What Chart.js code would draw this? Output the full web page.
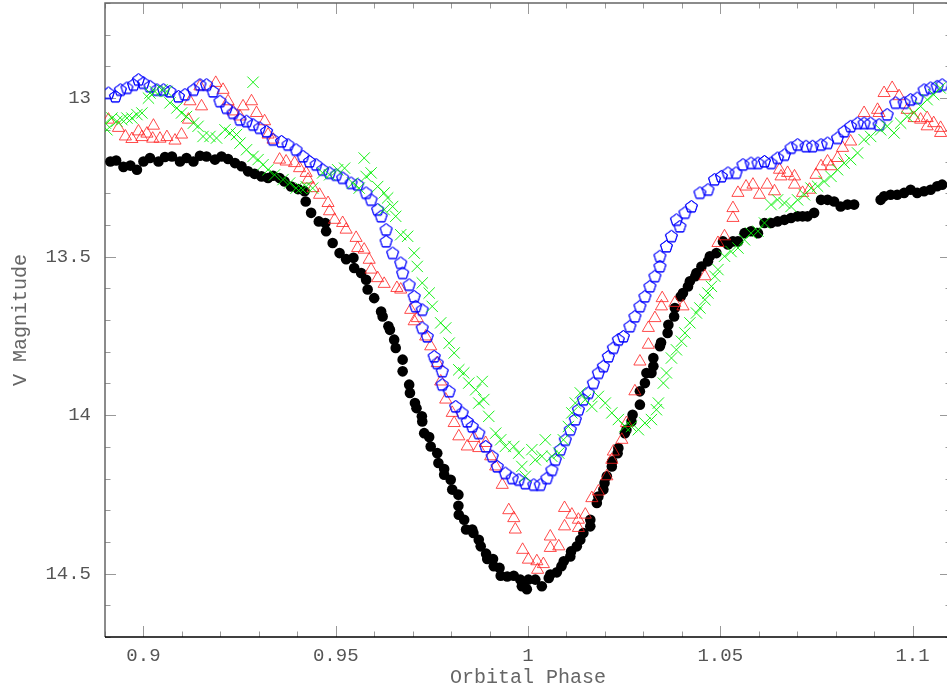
<!DOCTYPE html>
<html lang="en">
<head>
    <meta charset="UTF-8">
    <title>V Magnitude vs Orbital Phase</title>
    <script src="https://cdn.jsdelivr.net/npm/chart.js"></script>
    <style>
        html, body {
            margin: 0;
            padding: 0;
            background: #ffffff;
            overflow: hidden;
        }
        /* plot frame runs a few px past the right edge of the window, as in the original;
           the box is pulled up to cancel the label margin Chart.js keeps above the y axis */
        .chart-box {
            position: relative;
            width: 960px;
            height: 697px;
            margin-top: -6px;
        }
    </style>
</head>
<body>
<div class="chart-box">
    <canvas id="lightCurve"></canvas>
</div>

<script>
// Axis ranges and labelled ticks
const phaseRange = [0.89, 1.11];
const magRange = [12.7, 14.7];
const phaseLabels = [0.9, 0.95, 1, 1.05, 1.1];
const magLabels = [13, 13.5, 14, 14.5];

// Filled black circles
const blackPhase = [0.8914, 0.8929, 0.8948, 0.8966, 0.8983, 0.9000, 0.9017, 0.9039, 0.9056, 0.9074,
    0.9095, 0.9112, 0.9130, 0.9147, 0.9164, 0.9186, 0.9203, 0.9220, 0.9238, 0.9255,
    0.9272, 0.9289, 0.9307, 0.9324, 0.9337, 0.9354, 0.9367, 0.9384, 0.9402, 0.9419,
    0.9422, 0.9436, 0.9456, 0.9473, 0.9475, 0.9492, 0.9510, 0.9527, 0.9546, 0.9548,
    0.9566, 0.9579, 0.9583, 0.9600, 0.9618, 0.9622, 0.9637, 0.9641, 0.9652, 0.9656,
    0.9674, 0.9674, 0.9691, 0.9693, 0.9706, 0.9710, 0.9724, 0.9725, 0.9730, 0.9743,
    0.9747, 0.9764, 0.9767, 0.9782, 0.9782, 0.9799, 0.9803, 0.9819, 0.9819, 0.9820,
    0.9834, 0.9839, 0.9855, 0.9858, 0.9872, 0.9877, 0.9891, 0.9894, 0.9909, 0.9911,
    0.9926, 0.9929, 0.9946, 0.9963, 0.9980, 0.9984, 0.9997, 1.0001, 1.0019, 1.0036,
    1.0054, 1.0058, 1.0075, 1.0087, 1.0093, 1.0110, 1.0112, 1.0127, 1.0136, 1.0144,
    1.0162, 1.0162, 1.0179, 1.0183, 1.0196, 1.0199, 1.0205, 1.0218, 1.0219, 1.0233,
    1.0235, 1.0252, 1.0256, 1.0269, 1.0272, 1.0291, 1.0291, 1.0304, 1.0308, 1.0321,
    1.0326, 1.0326, 1.0343, 1.0346, 1.0363, 1.0365, 1.0380, 1.0382, 1.0397, 1.0403,
    1.0416, 1.0421, 1.0435, 1.0438, 1.0451, 1.0468, 1.0473, 1.0490, 1.0507, 1.0520,
    1.0533, 1.0546, 1.0563, 1.0580, 1.0598, 1.0615, 1.0632, 1.0649, 1.0667, 1.0684,
    1.0701, 1.0714, 1.0727, 1.0744, 1.0762, 1.0779, 1.0796, 1.0813, 1.0831, 1.0848,
    1.0917, 1.0926, 1.0943, 1.0960, 1.0978, 1.0995, 1.1012, 1.1030, 1.1047, 1.1064,
    1.1077];
const blackMag = [13.200, 13.197, 13.217, 13.213, 13.226, 13.200, 13.189, 13.200, 13.186, 13.184,
    13.200, 13.189, 13.200, 13.182, 13.184, 13.194, 13.184, 13.192, 13.205, 13.215,
    13.231, 13.239, 13.247, 13.252, 13.245, 13.252, 13.263, 13.279, 13.287, 13.294,
    13.326, 13.362, 13.389, 13.394, 13.420, 13.457, 13.489, 13.508, 13.504, 13.536,
    13.552, 13.573, 13.604, 13.631, 13.673, 13.689, 13.720, 13.731, 13.762, 13.788,
    13.825, 13.862, 13.904, 13.930, 13.962, 13.978, 14.004, 14.020, 14.057, 14.069,
    14.099, 14.120, 14.151, 14.170, 14.188, 14.204, 14.235, 14.251, 14.286, 14.314,
    14.330, 14.361, 14.361, 14.372, 14.393, 14.414, 14.437, 14.454, 14.454, 14.477,
    14.482, 14.507, 14.509, 14.507, 14.519, 14.540, 14.549, 14.519, 14.519, 14.540,
    14.514, 14.503, 14.496, 14.477, 14.461, 14.446, 14.430, 14.414, 14.393, 14.372,
    14.351, 14.330, 14.277, 14.257, 14.235, 14.214, 14.193, 14.162, 14.146, 14.120,
    14.104, 14.057, 14.046, 14.020, 13.999, 13.967, 13.925, 13.899, 13.867, 13.867,
    13.846, 13.820, 13.783, 13.771, 13.741, 13.715, 13.689, 13.662, 13.626, 13.615,
    13.594, 13.578, 13.562, 13.552, 13.531, 13.515, 13.499, 13.489, 13.452, 13.462,
    13.452, 13.452, 13.426, 13.420, 13.426, 13.394, 13.394, 13.389, 13.384, 13.378,
    13.373, 13.373, 13.373, 13.362, 13.321, 13.321, 13.326, 13.342, 13.336, 13.336,
    13.321, 13.310, 13.305, 13.305, 13.299, 13.289, 13.299, 13.294, 13.289, 13.278,
    13.273];

// Open red triangles
const redPhase = [0.8909, 0.8935, 0.8953, 0.8970, 0.8987, 0.8996, 0.9009, 0.9024, 0.9026, 0.9043,
    0.9061, 0.9082, 0.9099, 0.9117, 0.9121, 0.9147, 0.9151, 0.9188, 0.9207, 0.9220,
    0.9233, 0.9251, 0.9259, 0.9281, 0.9294, 0.9315, 0.9324, 0.9337, 0.9354, 0.9371,
    0.9393, 0.9406, 0.9423, 0.9428, 0.9441, 0.9458, 0.9480, 0.9484, 0.9497, 0.9518,
    0.9527, 0.9553, 0.9557, 0.9574, 0.9587, 0.9592, 0.9609, 0.9626, 0.9659, 0.9669,
    0.9695, 0.9704, 0.9712, 0.9734, 0.9747, 0.9764, 0.9773, 0.9786, 0.9803, 0.9808,
    0.9820, 0.9842, 0.9859, 0.9872, 0.9890, 0.9903, 0.9916, 0.9933, 0.9950, 0.9963,
    0.9967, 0.9986, 1.0001, 1.0023, 1.0025, 1.0040, 1.0058, 1.0058, 1.0080, 1.0095,
    1.0095, 1.0114, 1.0131, 1.0131, 1.0149, 1.0166, 1.0183, 1.0205, 1.0218, 1.0222,
    1.0244, 1.0256, 1.0278, 1.0291, 1.0313, 1.0313, 1.0330, 1.0347, 1.0349, 1.0382,
    1.0403, 1.0460, 1.0494, 1.0511, 1.0533, 1.0533, 1.0546, 1.0567, 1.0585, 1.0602,
    1.0622, 1.0641, 1.0654, 1.0658, 1.0675, 1.0693, 1.0693, 1.0714, 1.0732, 1.0749,
    1.0762, 1.0779, 1.0788, 1.0805, 1.0818, 1.0839, 1.0874, 1.0909, 1.0913, 1.0926,
    1.0947, 1.0965, 1.0986, 1.1004, 1.1021, 1.1038, 1.1038, 1.1055, 1.1073, 1.1073];
const redMag = [13.068, 13.094, 13.121, 13.129, 13.105, 13.123, 13.112, 13.128, 13.087, 13.128,
    13.123, 13.134, 13.115, 13.068, 13.010, 12.963, 13.026, 12.952, 12.974, 13.010,
    13.042, 13.058, 13.026, 13.010, 13.047, 13.073, 13.115, 13.131, 13.194, 13.200,
    13.205, 13.221, 13.236, 13.257, 13.284, 13.305, 13.331, 13.357, 13.384, 13.394,
    13.415, 13.441, 13.473, 13.478, 13.510, 13.541, 13.568, 13.586, 13.599, 13.604,
    13.668, 13.704, 13.694, 13.752, 13.783, 13.836, 13.894, 13.951, 13.993, 14.025,
    14.067, 14.099, 14.072, 14.104, 14.088, 14.130, 14.162, 14.220, 14.300, 14.325,
    14.361, 14.425, 14.456, 14.461, 14.488, 14.470, 14.383, 14.419, 14.414, 14.293,
    14.351, 14.314, 14.330, 14.356, 14.314, 14.262, 14.241, 14.193, 14.141, 14.115,
    14.078, 14.025, 13.925, 13.831, 13.778, 13.725, 13.694, 13.657, 13.631, 13.646,
    13.657, 13.562, 13.457, 13.436, 13.378, 13.347, 13.299, 13.279, 13.273, 13.305,
    13.273, 13.294, 13.226, 13.247, 13.236, 13.247, 13.273, 13.299, 13.289, 13.242,
    13.215, 13.200, 13.215, 13.189, 13.157, 13.137, 13.047, 13.037, 13.047, 12.984,
    12.968, 12.994, 13.037, 13.063, 13.068, 13.089, 13.063, 13.079, 13.094, 13.110];

// Green crosses
const greenPhase = [0.8901, 0.8905, 0.8918, 0.8931, 0.8944, 0.8957, 0.8970, 0.8983, 0.8996, 0.9013,
    0.9017, 0.9030, 0.9048, 0.9061, 0.9069, 0.9087, 0.9099, 0.9112, 0.9130, 0.9142,
    0.9155, 0.9173, 0.9190, 0.9212, 0.9225, 0.9242, 0.9251, 0.9268, 0.9285, 0.9285,
    0.9298, 0.9311, 0.9324, 0.9341, 0.9363, 0.9380, 0.9397, 0.9410, 0.9423, 0.9440,
    0.9466, 0.9484, 0.9505, 0.9523, 0.9544, 0.9561, 0.9574, 0.9579, 0.9592, 0.9609,
    0.9626, 0.9626, 0.9635, 0.9648, 0.9656, 0.9669, 0.9687, 0.9704, 0.9712, 0.9725,
    0.9743, 0.9751, 0.9773, 0.9786, 0.9795, 0.9808, 0.9820, 0.9833, 0.9846, 0.9864,
    0.9872, 0.9881, 0.9885, 0.9898, 0.9916, 0.9929, 0.9941, 0.9963, 0.9976, 0.9984,
    0.9993, 1.0010, 1.0019, 1.0036, 1.0045, 1.0062, 1.0080, 1.0092, 1.0105, 1.0114,
    1.0123, 1.0136, 1.0149, 1.0166, 1.0183, 1.0201, 1.0218, 1.0235, 1.0252, 1.0269,
    1.0287, 1.0304, 1.0321, 1.0334, 1.0339, 1.0352, 1.0360, 1.0373, 1.0386, 1.0399,
    1.0408, 1.0421, 1.0438, 1.0447, 1.0460, 1.0468, 1.0477, 1.0486, 1.0494, 1.0511,
    1.0528, 1.0546, 1.0563, 1.0580, 1.0598, 1.0615, 1.0632, 1.0649, 1.0667, 1.0684,
    1.0701, 1.0719, 1.0736, 1.0753, 1.0770, 1.0788, 1.0805, 1.0822, 1.0839, 1.0857,
    1.0874, 1.0891, 1.0917, 1.0934, 1.0952, 1.0969, 1.0986, 1.1003, 1.1021, 1.1038,
    1.1055, 1.1072];
const greenMag = [13.079, 13.100, 13.063, 13.073, 13.068, 13.063, 13.063, 13.052, 13.047, 13.000,
    12.984, 12.979, 12.974, 12.979, 13.015, 13.031, 13.047, 13.058, 13.079, 13.089,
    13.121, 13.121, 13.126, 13.100, 13.110, 13.115, 13.142, 13.163, 12.950, 13.184,
    13.194, 13.210, 13.226, 13.242, 13.257, 13.268, 13.284, 13.284, 13.279, 13.284,
    13.236, 13.242, 13.226, 13.221, 13.268, 13.284, 13.189, 13.247, 13.236, 13.279,
    13.299, 13.352, 13.315, 13.342, 13.373, 13.431, 13.436, 13.489, 13.531, 13.583,
    13.615, 13.657, 13.709, 13.725, 13.773, 13.804, 13.857, 13.867, 13.899, 13.920,
    13.962, 13.894, 13.951, 14.004, 14.057, 14.078, 14.099, 14.099, 14.120, 14.162,
    14.193, 14.109, 14.141, 14.130, 14.078, 14.130, 14.120, 14.078, 14.036, 13.993,
    13.962, 13.930, 13.951, 13.973, 13.941, 13.962, 13.993, 14.014, 14.036, 14.036,
    14.046, 14.025, 14.014, 13.983, 13.962, 13.899, 13.867, 13.820, 13.794, 13.767,
    13.741, 13.709, 13.678, 13.662, 13.636, 13.615, 13.594, 13.562, 13.541, 13.499,
    13.484, 13.473, 13.447, 13.426, 13.420, 13.394, 13.336, 13.321, 13.331, 13.342,
    13.321, 13.305, 13.284, 13.278, 13.263, 13.247, 13.226, 13.205, 13.194, 13.173,
    13.131, 13.121, 13.100, 13.089, 13.110, 13.079, 13.058, 13.047, 13.026, 13.005,
    12.989, 12.968];

// Open blue pentagons
const bluePhase = [0.8909, 0.8927, 0.8940, 0.8957, 0.8974, 0.8987, 0.9000, 0.9017, 0.9035, 0.9052,
    0.9069, 0.9091, 0.9108, 0.9130, 0.9147, 0.9164, 0.9181, 0.9199, 0.9216, 0.9233,
    0.9251, 0.9268, 0.9285, 0.9302, 0.9320, 0.9337, 0.9359, 0.9376, 0.9397, 0.9415,
    0.9432, 0.9449, 0.9466, 0.9484, 0.9501, 0.9518, 0.9540, 0.9557, 0.9579, 0.9592,
    0.9609, 0.9618, 0.9631, 0.9631, 0.9648, 0.9669, 0.9674, 0.9691, 0.9704, 0.9708,
    0.9725, 0.9725, 0.9738, 0.9756, 0.9764, 0.9777, 0.9777, 0.9795, 0.9812, 0.9829,
    0.9842, 0.9855, 0.9872, 0.9890, 0.9907, 0.9920, 0.9941, 0.9959, 0.9976, 0.9993,
    1.0015, 1.0032, 1.0049, 1.0062, 1.0071, 1.0084, 1.0097, 1.0110, 1.0123, 1.0131,
    1.0144, 1.0157, 1.0170, 1.0183, 1.0196, 1.0209, 1.0222, 1.0235, 1.0248, 1.0265,
    1.0278, 1.0291, 1.0304, 1.0317, 1.0330, 1.0343, 1.0343, 1.0360, 1.0373, 1.0386,
    1.0395, 1.0408, 1.0425, 1.0447, 1.0468, 1.0485, 1.0503, 1.0520, 1.0541, 1.0559,
    1.0580, 1.0598, 1.0615, 1.0632, 1.0649, 1.0667, 1.0684, 1.0701, 1.0723, 1.0740,
    1.0762, 1.0779, 1.0805, 1.0822, 1.0839, 1.0857, 1.0874, 1.0891, 1.0913, 1.0934,
    1.0956, 1.0978, 1.0995, 1.1012, 1.1030, 1.1047, 1.1064, 1.1077];
const blueMag = [12.984, 12.995, 12.974, 12.968, 12.958, 12.942, 12.952, 12.963, 12.974, 12.974,
    12.979, 12.995, 12.989, 12.974, 12.958, 12.958, 12.979, 13.010, 13.031, 13.047,
    13.068, 13.073, 13.084, 13.094, 13.105, 13.131, 13.137, 13.147, 13.163, 13.184,
    13.200, 13.210, 13.226, 13.236, 13.242, 13.252, 13.268, 13.273, 13.299, 13.321,
    13.352, 13.373, 13.415, 13.452, 13.489, 13.520, 13.552, 13.589, 13.626, 13.657,
    13.668, 13.725, 13.752, 13.815, 13.836, 13.862, 13.904, 13.925, 13.973, 13.993,
    14.020, 14.036, 14.057, 14.099, 14.130, 14.162, 14.183, 14.199, 14.204, 14.215,
    14.220, 14.220, 14.199, 14.173, 14.141, 14.109, 14.078, 14.046, 14.014, 13.983,
    13.951, 13.930, 13.899, 13.867, 13.846, 13.815, 13.788, 13.762, 13.752, 13.720,
    13.689, 13.657, 13.626, 13.594, 13.562, 13.531, 13.499, 13.468, 13.436, 13.384,
    13.405, 13.362, 13.342, 13.299, 13.289, 13.257, 13.247, 13.236, 13.236, 13.210,
    13.205, 13.205, 13.200, 13.205, 13.189, 13.179, 13.157, 13.147, 13.152, 13.152,
    13.147, 13.142, 13.126, 13.105, 13.089, 13.079, 13.079, 13.079, 13.084, 13.052,
    13.015, 13.015, 13.005, 13.000, 12.974, 12.968, 12.963, 12.958];

const toPoints = (xs, ys) => xs.map((x, i) => ({ x: x, y: ys[i] }));

// Chart.js has no pentagon marker, so make one as an image point style
function pentagon(color) {
    const c = document.createElement('canvas');
    c.width = 15;
    c.height = 15;
    const g = c.getContext('2d');
    g.strokeStyle = color;
    g.lineWidth = 1;
    g.beginPath();
    for (let k = 0; k < 5; k++) {
        const a = -Math.PI / 2 + k * 2 * Math.PI / 5;
        const px = 7.5 + 6.3 * Math.cos(a);
        const py = 7.8 + 6.3 * Math.sin(a);
        if (k === 0) g.moveTo(px, py); else g.lineTo(px, py);
    }
    g.closePath();
    // stroke twice so the thin antialiased outline keeps its full blue
    g.stroke();
    g.stroke();
    return c;
}

const isMultiple = (v, step) => Math.abs(v / step - Math.round(v / step)) < 1e-6;
const fmt = v => String(parseFloat(v.toFixed(2)));

// PGPLOT-like frame: ticks pointing inward on all four sides
const framePlugin = {
    id: 'frame',
    beforeDatasetsDraw(chart) {
        const { ctx, chartArea: a, scales } = chart;
        ctx.save();
        ctx.lineWidth = 1;
        ctx.strokeStyle = '#999';
        scales.x.ticks.forEach(t => {
            const px = Math.round(scales.x.getPixelForValue(t.value)) + 0.5;
            const len = isMultiple(t.value, 0.05) ? 11 : 5.5;
            ctx.beginPath();
            ctx.moveTo(px, a.bottom); ctx.lineTo(px, a.bottom - len);
            ctx.moveTo(px, a.top); ctx.lineTo(px, a.top + len);
            ctx.stroke();
        });
        scales.y.ticks.forEach(t => {
            const py = Math.round(scales.y.getPixelForValue(t.value)) + 0.5;
            const len = isMultiple(t.value, 0.5) ? 11 : 5.5;
            ctx.beginPath();
            ctx.moveTo(a.left, py); ctx.lineTo(a.left + len, py);
            ctx.moveTo(a.right, py); ctx.lineTo(a.right - len, py);
            ctx.stroke();
        });
        ctx.lineWidth = 1.5;
        ctx.strokeStyle = '#666';
        ctx.beginPath();
        ctx.moveTo(a.left, a.bottom); ctx.lineTo(a.left, a.top);
        ctx.lineTo(a.right, a.top); ctx.lineTo(a.right, a.bottom);
        ctx.stroke();
        ctx.strokeStyle = '#000';
        ctx.beginPath();
        ctx.moveTo(a.left, a.bottom); ctx.lineTo(a.right, a.bottom);
        ctx.stroke();
        ctx.restore();
    }
};

const tickFont = { family: "'Liberation Mono', 'DejaVu Sans Mono', monospace", size: 19 };
const titleFont = { family: "'Liberation Mono', 'DejaVu Sans Mono', monospace", size: 20 };

new Chart(document.getElementById('lightCurve'), {
    type: 'scatter',
    data: {
        datasets: [
            {
                label: 'green',
                data: toPoints(greenPhase, greenMag),
                pointStyle: 'crossRot',
                pointRadius: 8,
                borderColor: 'rgba(0, 240, 0, 0.9)',
                backgroundColor: 'rgba(0, 240, 0, 0.9)',
                borderWidth: 1
            },
            {
                label: 'blue',
                data: toPoints(bluePhase, blueMag),
                pointStyle: pentagon('#0000ff'),
                pointRadius: 6
            },
            {
                label: 'red',
                data: toPoints(redPhase, redMag),
                pointStyle: 'triangle',
                pointRadius: 7,
                borderColor: 'rgba(255, 30, 30, 0.8)',
                backgroundColor: 'rgba(0, 0, 0, 0)',
                borderWidth: 1
            },
            {
                label: 'black',
                data: toPoints(blackPhase, blackMag),
                pointStyle: 'circle',
                pointRadius: 5.3,
                borderWidth: 0,
                backgroundColor: '#000',
                borderColor: '#000'
            }
        ]
    },
    options: {
        responsive: true,
        maintainAspectRatio: false,
        animation: false,
        events: [],
        layout: { padding: { top: 3, right: 6, left: 0, bottom: 0 } },
        plugins: {
            legend: { display: false },
            tooltip: { enabled: false }
        },
        scales: {
            x: {
                type: 'linear',
                min: phaseRange[0],
                max: phaseRange[1],
                grid: { display: false, drawTicks: false },
                border: { display: false },
                ticks: {
                    stepSize: 0.01,
                    autoSkip: false,
                    maxRotation: 0,
                    padding: 8,
                    color: '#555',
                    font: tickFont,
                    callback: v => phaseLabels.some(p => Math.abs(p - v) < 1e-6) ? fmt(v) : ''
                },
                title: {
                    display: true,
                    text: 'Orbital Phase',
                    color: '#666',
                    font: titleFont,
                    padding: { top: 0, bottom: 1 }
                },
                afterFit: s => {
                    s.height = 54;
                    s.paddingLeft = 0;
                    s.paddingRight = 0;
                }
            },
            y: {
                type: 'linear',
                reverse: true,
                min: magRange[0],
                max: magRange[1],
                grid: { display: false, drawTicks: false },
                border: { display: false },
                ticks: {
                    stepSize: 0.1,
                    autoSkip: false,
                    padding: 14,
                    color: '#555',
                    font: tickFont,
                    callback: v => magLabels.some(m => Math.abs(m - v) < 1e-6) ? fmt(v) : ''
                },
                title: {
                    display: true,
                    text: 'V Magnitude',
                    color: '#666',
                    font: titleFont,
                    padding: { top: 9, bottom: 0 }
                },
                afterFit: s => {
                    s.width = 105;
                    s.paddingTop = 0;
                    s.paddingBottom = 0;
                }
            }
        }
    },
    plugins: [framePlugin]
});
</script>
</body>
</html>
